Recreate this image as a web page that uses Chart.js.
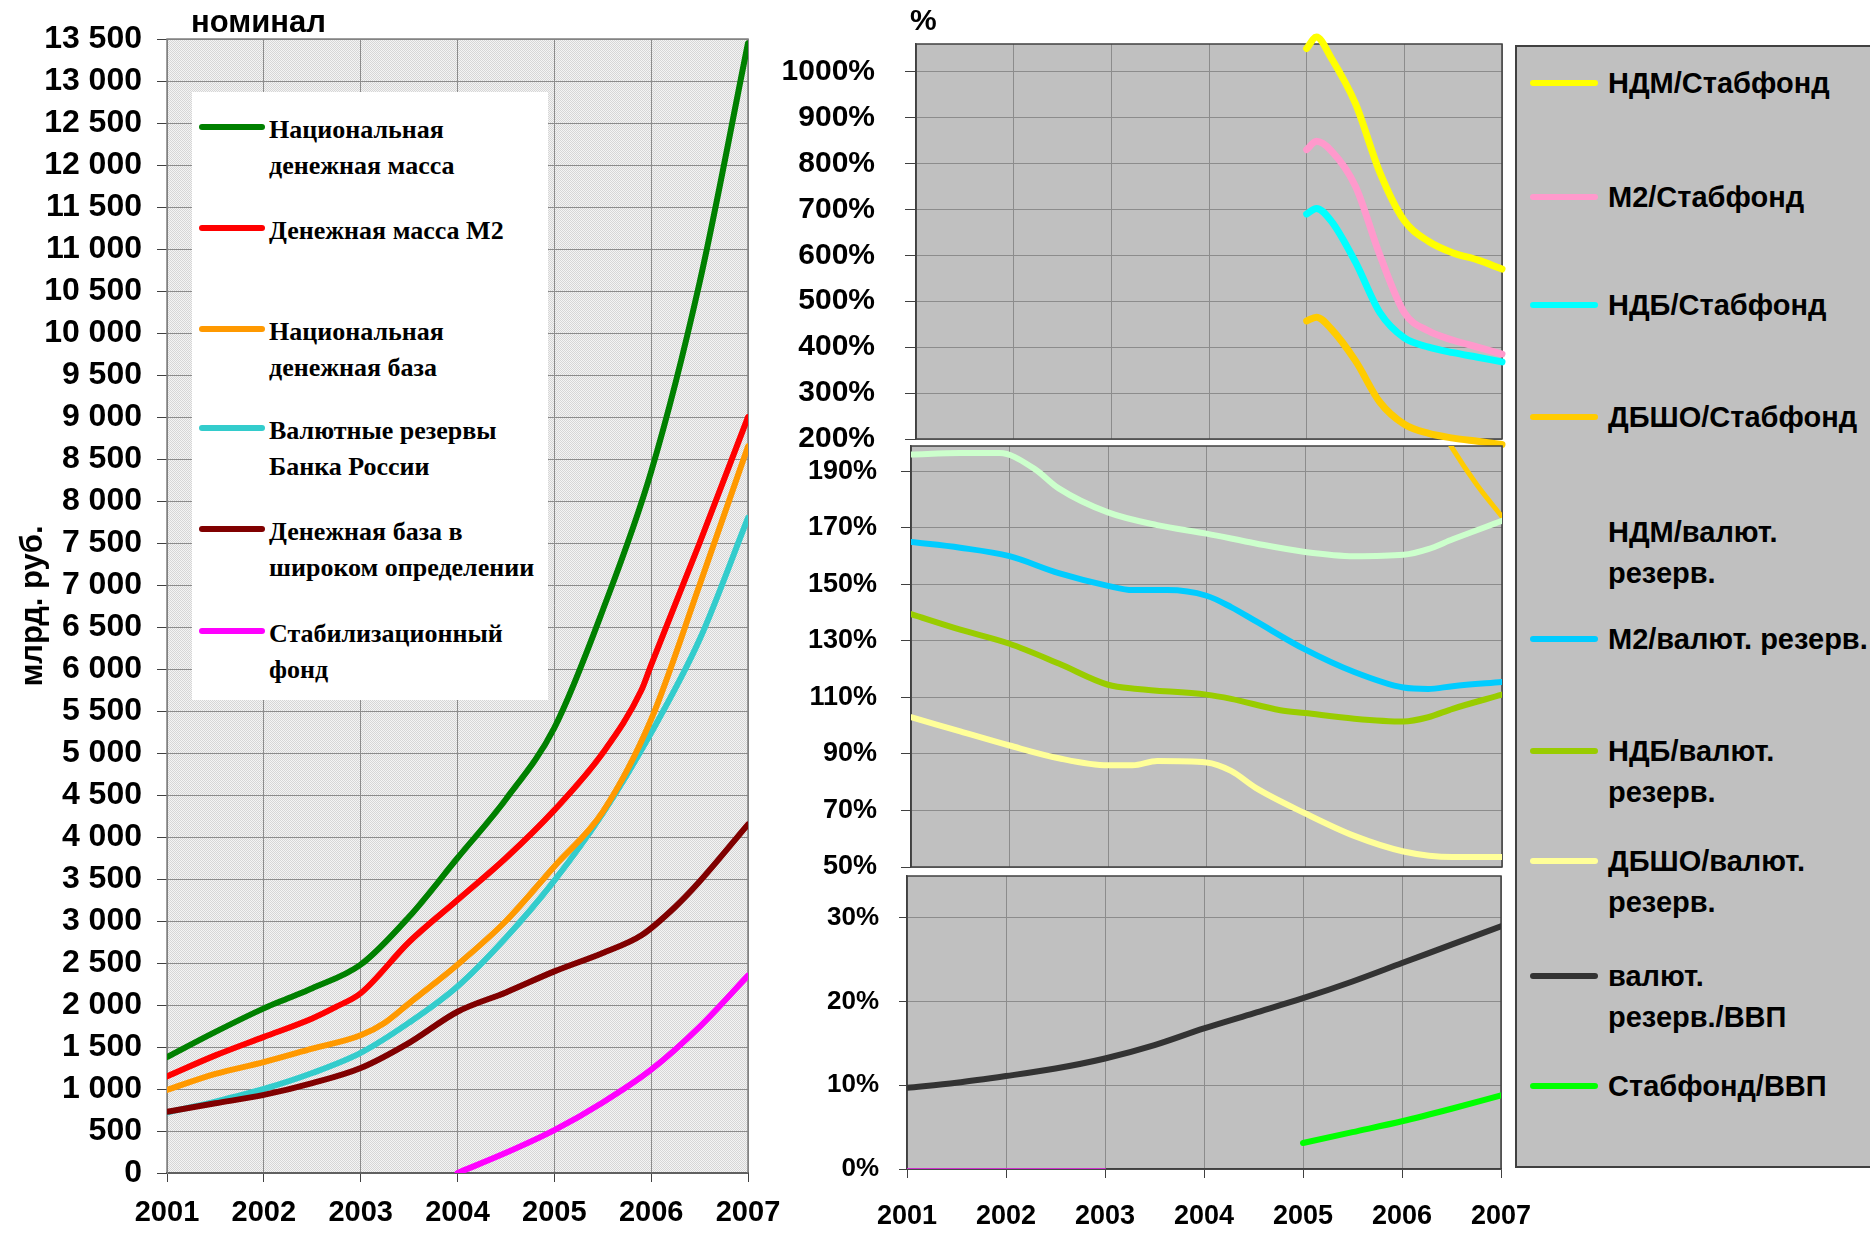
<!DOCTYPE html>
<html>
<head>
<meta charset="utf-8">
<script src="https://cdn.jsdelivr.net/npm/chart.js@4.4.0/dist/chart.umd.min.js"></script>
<style>
  body { margin: 0; background: #fff; width: 1870px; height: 1236px; position: relative; overflow: hidden;
         font-family: "Liberation Sans", Arial, sans-serif; }
  canvas { position: absolute; }
  .t { position: absolute; white-space: nowrap; font-weight: bold; color: #000; }
  .ln { position: absolute; height: 6px; border-radius: 3px; }
  .lg-left { font-family: "Liberation Serif", "Times New Roman", serif; font-size: 26px; line-height: 36px; }
  .lg-right { font-size: 29px; line-height: 41px; }
</style>
</head>
<body>
<canvas id="left" width="780" height="1236" style="left:0;top:0"></canvas>
<canvas id="topPanel" width="760" height="470" style="left:780px;top:0"></canvas>
<canvas id="midPanel" width="760" height="460" style="left:780px;top:440px"></canvas>
<canvas id="botPanel" width="760" height="376" style="left:780px;top:860px"></canvas>

<div class="t" style="left:191px;top:4px;font-size:31px;line-height:36px">номинал</div>
<div class="t" style="left:910px;top:2px;font-size:30px;line-height:36px">%</div>

<div id="legendLeft" style="position:absolute;left:192px;top:92px;width:356px;height:608px;background:#fff"></div>
<div id="legendRight" style="position:absolute;left:1515px;top:45px;width:360px;height:1119px;background:#c0c0c0;border:2px solid #404040"></div>

<script>
// ---- left chart: млрд. руб. ----
const ndmX = [2001, 2001.5, 2002, 2002.25, 2002.5, 2003, 2003.5, 2004, 2004.5, 2005, 2005.5, 2006, 2006.5, 2007];
const ndmY = [1380, 1680, 1960, 2080, 2200, 2480, 3050, 3750, 4450, 5300, 6700, 8350, 10600, 13450];
const m2X = [2001, 2001.5, 2002, 2002.5, 2002.75, 2003, 2003.5, 2004, 2004.5, 2005, 2005.5, 2005.9, 2006, 2006.5, 2007];
const m2Y = [1150, 1400, 1620, 1840, 1980, 2140, 2750, 3250, 3750, 4320, 5000, 5750, 6050, 7500, 9000];
const ndbX = [2001, 2001.5, 2002, 2002.5, 2003, 2003.25, 2003.5, 2004, 2004.5, 2005, 2005.5, 2006, 2006.5, 2007];
const ndbY = [990, 1180, 1320, 1480, 1640, 1790, 2020, 2480, 3000, 3650, 4300, 5400, 7000, 8650];
const rezX = [2001, 2001.5, 2002, 2002.5, 2003, 2003.5, 2004, 2004.5, 2005, 2005.5, 2006, 2006.5, 2007];
const rezY = [720, 850, 1000, 1190, 1430, 1790, 2220, 2800, 3480, 4280, 5240, 6350, 7800];
const dbshoX = [2001, 2001.5, 2002, 2002.5, 2003, 2003.5, 2004, 2004.5, 2005, 2005.5, 2005.9, 2006.25, 2006.5, 2007];
const dbshoY = [730, 830, 930, 1070, 1250, 1550, 1920, 2150, 2400, 2620, 2830, 3170, 3470, 4150];
const stabX = [2004, 2004.5, 2005, 2005.5, 2006, 2006.5, 2007];
const stabY = [0, 240, 510, 840, 1230, 1740, 2350];

// ---- right top: ratios to Стабфонд, % ----
const qX = [2005, 2005.1, 2005.25, 2005.5, 2005.75, 2006, 2006.25, 2006.5, 2006.75, 2007];
const ndmStab = [1050, 1075, 1030, 930, 780, 675, 630, 605, 590, 570];
const m2Stab = [830, 848, 828, 750, 600, 475, 435, 415, 400, 385];
const ndbStab = [690, 702, 675, 585, 475, 420, 400, 388, 378, 368];
const dbshoStab = [457, 465, 440, 370, 280, 232, 212, 202, 195, 188];

// ---- right middle: ratios to валют. резервы, % ----
const ndmRezX = [2001, 2001.5, 2001.9, 2002.25, 2002.5, 2003, 2003.5, 2004, 2004.5, 2005, 2005.5, 2006, 2006.25, 2006.5, 2007];
const ndmRez = [196, 196.5, 196.5, 191, 184, 175.5, 171, 168, 164.5, 161.5, 160, 160.5, 162.5, 166, 172.5];
const m2RezX = [2001, 2001.5, 2002, 2002.5, 2003, 2003.25, 2003.6, 2004, 2004.25, 2004.5, 2005, 2005.5, 2006, 2006.25, 2006.5, 2007];
const m2Rez = [165, 163, 160, 154, 149.5, 148, 148, 146, 142, 137, 127, 119, 113.5, 113, 114, 115.5];
const ndbRezX = [2001, 2001.5, 2002, 2002.5, 2003, 2003.3, 2004, 2004.25, 2004.75, 2005, 2005.5, 2006, 2006.25, 2006.5, 2007];
const ndbRez = [139.5, 134, 129, 122, 114.5, 113, 111, 109.5, 105.5, 104.5, 102.5, 101.5, 103, 106, 111];
const dbshoRezX = [2001, 2001.5, 2002, 2002.5, 2003, 2003.25, 2003.5, 2004, 2004.25, 2004.5, 2005, 2005.5, 2006, 2006.5, 2007];
const dbshoRez = [103, 98, 93, 88.5, 86, 86, 87.5, 87, 84, 78, 69, 61, 55.5, 53.5, 53.5];
const dbshoStabLowX = [2006.3, 2006.5, 2006.75, 2007];
const dbshoStabLow = [210, 198, 185, 174];

// ---- right bottom: to ВВП, % ----
const vvpX = [2001, 2001.5, 2002, 2002.5, 2003, 2003.5, 2004, 2004.5, 2005, 2005.5, 2006, 2006.5, 2007];
const rezVvp = [9.7, 10.3, 11.1, 12, 13.2, 14.8, 16.8, 18.6, 20.4, 22.4, 24.6, 26.8, 29];
const stabVvpX = [2005, 2005.5, 2006, 2006.5, 2007];
const stabVvp = [3.1, 4.4, 5.7, 7.2, 8.8];
const zeroX = [2001, 2002, 2003];
const zeroY = [0, 0, 0];

// tick values
const topTicks = [200, 300, 400, 500, 600, 700, 800, 900, 1000];
const midTicks = [50, 70, 90, 110, 130, 150, 170, 190];
const botTicks = [0, 10, 20, 30];

Chart.defaults.font.family = '"Liberation Sans", Arial, sans-serif';
Chart.defaults.color = '#000';

const gridGray = '#8c8c8c';

function pts(xs, ys) {
  return xs.map((x, i) => ({ x: x, y: ys[i] }));
}

function line(label, xs, ys, color, width, extra) {
  return Object.assign({
    label: label, data: pts(xs, ys), borderColor: color, backgroundColor: color,
    borderWidth: width, pointRadius: 0, fill: false,
    cubicInterpolationMode: 'monotone', borderCapStyle: 'round', borderJoinStyle: 'round'
  }, extra || {});
}

// plot area background + frame
const panelBg = {
  id: 'panelBg',
  beforeDraw(chart, args, opts) {
    const a = chart.chartArea, ctx = chart.ctx;
    ctx.save();
    ctx.fillStyle = opts.fill;
    ctx.fillRect(a.left, a.top, a.right - a.left, a.bottom - a.top);
    ctx.restore();
  },
  beforeDatasetsDraw(chart, args, opts) {
    const a = chart.chartArea, ctx = chart.ctx;
    ctx.save();
    ctx.strokeStyle = opts.frame;
    ctx.lineWidth = 1.5;
    ctx.strokeRect(a.left, a.top, a.right - a.left, a.bottom - a.top);
    ctx.restore();
  }
};

function hatch(ctx) {
  const c = document.createElement('canvas');
  c.width = 2; c.height = 2;
  const g = c.getContext('2d');
  g.fillStyle = '#f4f4f4'; g.fillRect(0, 0, 2, 2);
  g.fillStyle = '#d6d6d6'; g.fillRect(0, 0, 1, 1); g.fillRect(1, 1, 1, 1);
  return ctx.createPattern(c, 'repeat');
}

function xAxis(show, height, tickLen, pad, size) {
  return {
    type: 'linear', min: 2001, max: 2007,
    ticks: { stepSize: 1, display: show, padding: pad, font: { size: size, weight: 'bold' },
             callback: v => String(v), maxRotation: 0, autoSkip: false },
    grid: { color: gridGray, drawTicks: show, tickLength: tickLen, tickColor: '#404040' },
    border: { display: show, color: '#404040', width: 1.5 },
    afterFit: s => { s.height = height; s.paddingLeft = 0; s.paddingRight = 0; }
  };
}

function yAxis(min, max, tickVals, width, tickLen, pad, size, fmt) {
  return {
    min: min, max: max,
    ticks: { padding: pad, font: { size: size, weight: 'bold' }, callback: fmt, autoSkip: false },
    afterBuildTicks: s => { s.ticks = tickVals.map(v => ({ value: v })); },
    grid: { color: gridGray, tickLength: tickLen, tickColor: '#404040' },
    border: { color: '#404040', width: 1.5 },
    afterFit: s => { s.width = width; s.paddingTop = 0; s.paddingBottom = 0; }
  };
}

const thousands = v => String(v).replace(/\B(?=(\d{3})+(?!\d))/g, ' ');
const pct = v => v + '%';

function baseOptions(padding, fill, scales) {
  return {
    responsive: false, animation: false,
    layout: { padding: padding },
    plugins: { legend: { display: false }, tooltip: { enabled: false }, panelBg: { fill: fill, frame: '#404040' } },
    scales: scales
  };
}

// left chart
const leftTicks = [];
for (let v = 0; v <= 13500; v += 500) leftTicks.push(v);
const leftCanvas = document.getElementById('left');
const leftY = yAxis(0, 13500, leftTicks, 167, 10, 15, 32, thousands);
leftY.title = { display: true, text: 'млрд. руб.', font: { size: 31, weight: 'bold' }, padding: { top: 15, bottom: 0 } };
leftY.border = { color: '#808080', width: 1 };
const leftX = xAxis(true, 63, 9, 14, 29);
leftX.border = { color: '#000', width: 2 };
const leftOpts = baseOptions({ top: 39, left: 0, right: 32, bottom: 0 }, hatch(leftCanvas.getContext('2d')), { x: leftX, y: leftY });
leftOpts.plugins.panelBg.frame = '#808080';
new Chart(leftCanvas, {
  type: 'line',
  data: {
    datasets: [
      line('Национальная денежная масса', ndmX, ndmY, '#008000', 6),
      line('Денежная масса М2', m2X, m2Y, '#ff0000', 6),
      line('Национальная денежная база', ndbX, ndbY, '#ff9900', 6),
      line('Денежная база в широком определении', dbshoX, dbshoY, '#800000', 6),
      line('Валютные резервы Банка России', rezX, rezY, '#33cccc', 6),
      line('Стабилизационный фонд', stabX, stabY, '#ff00ff', 6)
    ]
  },
  options: leftOpts,
  plugins: [panelBg]
});

// right top panel
new Chart(document.getElementById('topPanel'), {
  type: 'line',
  data: {
    datasets: [
      line('НДМ/Стабфонд', qX, ndmStab, '#ffff00', 7, { clip: false }),
      line('М2/Стабфонд', qX, m2Stab, '#ff99cc', 7, { clip: false }),
      line('НДБ/Стабфонд', qX, ndbStab, '#00ffff', 7, { clip: false }),
      line('ДБШО/Стабфонд', qX, dbshoStab, '#ffcc00', 7, { clip: false })
    ]
  },
  options: baseOptions({ top: 44, left: 0, right: 38, bottom: 31 }, '#c0c0c0', {
    x: xAxis(false, 0, 0, 0, 27),
    y: yAxis(200, 1060, topTicks, 136, 11, 30, 30, pct)
  }),
  plugins: [panelBg]
});

// right middle panel
new Chart(document.getElementById('midPanel'), {
  type: 'line',
  data: {
    datasets: [
      line('НДМ/валют. резерв.', ndmRezX, ndmRez, '#ccffcc', 6),
      line('М2/валют. резерв.', m2RezX, m2Rez, '#00ccff', 6),
      line('НДБ/валют. резерв.', ndbRezX, ndbRez, '#99cc00', 6),
      line('ДБШО/валют. резерв.', dbshoRezX, dbshoRez, '#ffff99', 6),
      line('ДБШО/Стабфонд', dbshoStabLowX, dbshoStabLow, '#ffcc00', 5)
    ]
  },
  options: baseOptions({ top: 6, left: 0, right: 38, bottom: 33 }, '#c0c0c0', {
    x: xAxis(false, 0, 0, 0, 27),
    y: yAxis(50, 199, midTicks, 131, 10, 24, 27, pct)
  }),
  plugins: [panelBg]
});

// right bottom panel
new Chart(document.getElementById('botPanel'), {
  type: 'line',
  data: {
    datasets: [
      line('валют. резерв./ВВП', vvpX, rezVvp, '#333333', 6),
      line('Стабфонд/ВВП', stabVvpX, stabVvp, '#00ff00', 6),
      line('', zeroX, zeroY, '#cc33cc', 2, { cubicInterpolationMode: 'default' })
    ]
  },
  options: baseOptions({ top: 16, left: 0, right: 39, bottom: 0 }, '#c0c0c0', {
    x: xAxis(true, 67, 9, 22, 27),
    y: yAxis(0, 35, botTicks, 127, 8, 20, 26, pct)
  }),
  plugins: [panelBg]
});

// legends (HTML)
const leftLegend = [
  ['#008000', 'Национальная<br>денежная масса', 127],
  ['#ff0000', 'Денежная масса М2', 228],
  ['#ff9900', 'Национальная<br>денежная база', 329],
  ['#33cccc', 'Валютные резервы<br>Банка России', 428],
  ['#800000', 'Денежная база в<br>широком определении', 529],
  ['#ff00ff', 'Стабилизационный<br>фонд', 631]
];
const rightLegend = [
  ['#ffff00', 'НДМ/Стабфонд', 83],
  ['#ff99cc', 'М2/Стабфонд', 197],
  ['#00ffff', 'НДБ/Стабфонд', 305],
  ['#ffcc00', 'ДБШО/Стабфонд', 417],
  [null, 'НДМ/валют.<br>резерв.', 532],
  ['#00ccff', 'М2/валют. резерв.', 639],
  ['#99cc00', 'НДБ/валют.<br>резерв.', 751],
  ['#ffff99', 'ДБШО/валют.<br>резерв.', 861],
  ['#333333', 'валют.<br>резерв./ВВП', 976],
  ['#00ff00', 'Стабфонд/ВВП', 1086]
];

function addLegend(items, lineLeft, lineWidth, textLeft, cls, textShift) {
  let html = '';
  items.forEach(([color, text, y]) => {
    if (color) {
      html += `<div class="ln" style="left:${lineLeft}px;top:${y - 3}px;width:${lineWidth}px;background:${color}"></div>`;
    }
    html += `<div class="t ${cls}" style="left:${textLeft}px;top:${y - textShift}px">${text}</div>`;
  });
  document.body.insertAdjacentHTML('beforeend', html);
}
addLegend(leftLegend, 199, 66, 269, 'lg-left', 15);
addLegend(rightLegend, 1530, 68, 1608, 'lg-right', 20);
</script>
</body>
</html>
